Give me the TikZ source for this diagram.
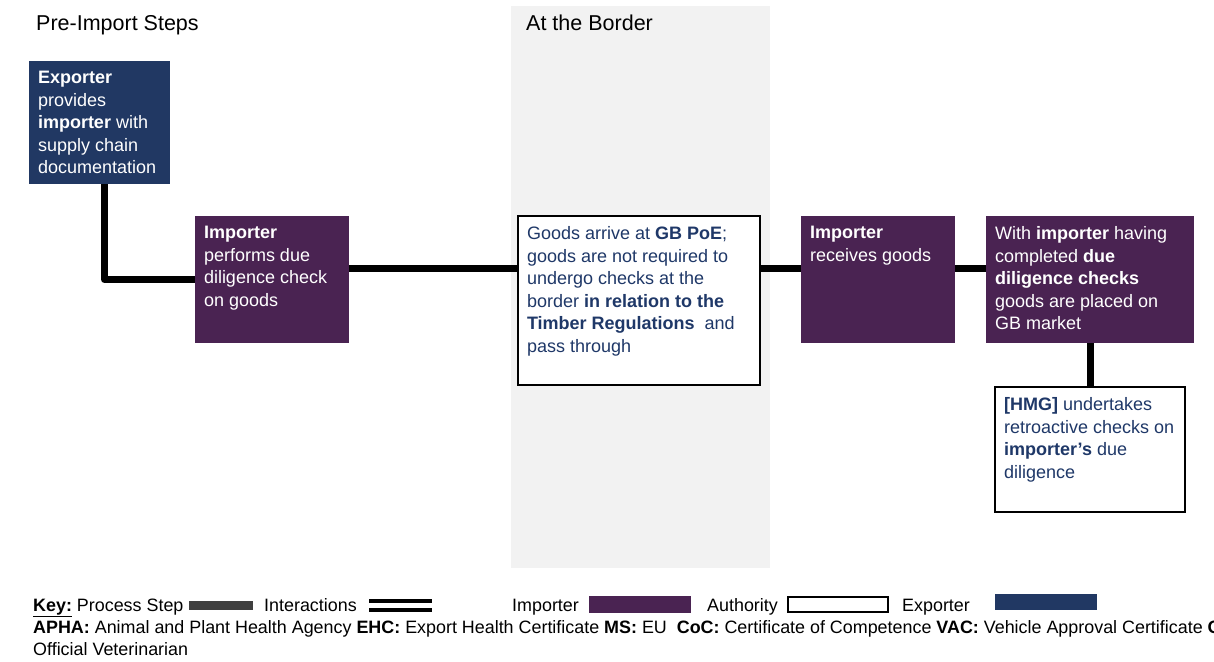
\documentclass[tikz,border=0pt]{standalone}
\usepackage{fontspec}
\setmainfont{Liberation Sans}
\definecolor{expblue}{HTML}{213863}
\definecolor{imppurple}{HTML}{4A2352}
\definecolor{navytext}{HTML}{1F3868}
\definecolor{band}{HTML}{F2F2F2}
\definecolor{stepgrey}{HTML}{404040}
\newcommand\bxtext[3]{\parbox[t][#2pt][t]{#1pt}{\raggedright #3}}
\begin{document}
\begin{tikzpicture}[x=1pt,y=-1pt,
  boxbase/.style={anchor=north west, inner xsep=9pt, inner ysep=10.5pt, outer sep=0pt,
    font=\fontsize{18}{22.5}\selectfont},
  expbox/.style={boxbase, fill=expblue, text=white},
  impbox/.style={boxbase, fill=imppurple, text=white},
  authbox/.style={boxbase, fill=white, draw=black, line width=2.8pt, text=navytext},
  conn/.style={line width=7pt, black, line join=round},
  heading/.style={anchor=base west, inner sep=0pt, font=\fontsize{21.5}{26}\selectfont},
  keytext/.style={anchor=base west, inner sep=0pt, font=\fontsize{17.9}{22}\selectfont},
]
\useasboundingbox (0,0) rectangle (1214,661);
\fill[white] (0,0) rectangle (1214,661);
% border band
\fill[band] (511,6) rectangle (770,568);
\node[heading] (h1) at (36,30.5) {Pre-Import Steps};
\node[heading] (h2) at (526,30.5) {At the Border};
% boxes
\node[expbox] (exp) at (29,61) {\bxtext{123}{102}{\textbf{Exporter}\\ provides\\ \textbf{importer} with\\ supply chain\\ documentation}};
\node[impbox] (imp) at (195,216) {\bxtext{136}{106}{\textbf{Importer}\\ performs due\\ diligence check\\ on goods}};
\node[authbox] (auth) at (518,216) {\bxtext{224}{148}{Goods arrive at \textbf{GB PoE};\\ goods are not required to\\ undergo checks at the\\ border \textbf{in relation to the}\\ \textbf{Timber Regulations}~ and\\ pass through}};
\node[impbox] (recv) at (801,216) {\bxtext{136}{106}{\textbf{Importer}\\ receives goods}};
\node[impbox] (with) at (986,216) {\bxtext{190}{106}{With \textbf{importer} having\\ completed \textbf{due}\\ \textbf{diligence checks}\\ goods are placed on\\ GB market}};
\node[authbox] (hmg) at (995,387) {\bxtext{172}{104}{\textbf{[HMG]} undertakes\\ retroactive checks on\\ \textbf{importer’s} due\\ diligence}};
% connectors
\coordinate (rowy) at (0,268);
\draw[conn] ([xshift=5pt]exp.south) |- (imp.west);
\draw[conn] (imp.east |- rowy) -- (auth.west |- rowy);
\draw[conn] (auth.east |- rowy) -- (recv.west |- rowy);
\draw[conn] (recv.east |- rowy) -- (with.west |- rowy);
\draw[conn] (with.south) -- (hmg.north);
% key
\node[keytext] (k1) at (33,611) {\underline{\textbf{Key:}} Process Step};
\fill[stepgrey] (189,601) rectangle (253,610);
\node[keytext] (k2) at (264,611) {Interactions};
\fill[black] (369,598.5) rectangle (432,602.5);
\fill[black] (369,607.5) rectangle (432,611.5);
\node[keytext] (k3) at (512,611) {Importer};
\fill[imppurple] (589,596) rectangle (691,613);
\node[keytext] (k4) at (707,611) {Authority};
\draw[black, line width=2.2pt] (788,597) rectangle (888,612);
\node[keytext] (k5) at (902,611) {Exporter};
\fill[expblue] (995,594) rectangle (1097,610);
\node[keytext] (k6) at (33,633) {\textbf{APHA:} Animal and Plant Health Agency \textbf{EHC:} Export Health Certificate \textbf{MS:} EU\ \ \textbf{CoC:} Certificate of Competence \textbf{VAC:} Vehicle Approval Certificate \textbf{OV:}};
\node[keytext] (k7) at (33,655) {Official Veterinarian};
\end{tikzpicture}
\end{document}
